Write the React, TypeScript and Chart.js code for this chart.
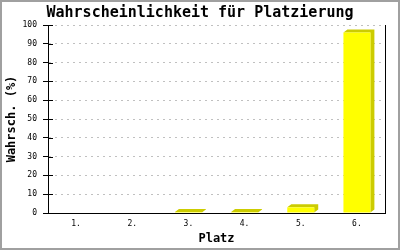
import React, { useEffect, useRef } from "react";
import { Chart, registerables } from "chart.js";

Chart.register(...registerables);

const categories = ["1.", "2.", "3.", "4.", "5.", "6."];
const values = [0, 0, 0.5, 0.5, 3, 96];
const yTicks = [0, 10, 20, 30, 40, 50, 60, 70, 80, 90, 100];

const MONO = "'DejaVu Sans Mono', 'Liberation Mono', monospace";

const bar3d = {
  id: "bar3d",
  beforeDatasetsDraw(chart: any) {
    const ctx = chart.ctx;
    const meta = chart.getDatasetMeta(0);
    const dx = 4;
    const dy = 3;
    ctx.save();
    ctx.fillStyle = "#cccc00";
    meta.data.forEach((el: any, i: number) => {
      if (!values[i]) return;
      const { x, y, base, width } = el.getProps(["x", "y", "base", "width"], true);
      const l = x - width / 2;
      const r = x + width / 2;
      ctx.beginPath();
      ctx.moveTo(l, y);
      ctx.lineTo(l + dx, y - dy);
      ctx.lineTo(r + dx, y - dy);
      ctx.lineTo(r + dx, base - dy);
      ctx.lineTo(r, base);
      ctx.lineTo(r, y);
      ctx.closePath();
      ctx.fill();
    });
    ctx.restore();
  },
  afterDraw(chart: any) {
    const ctx = chart.ctx;
    const { left, right, top, bottom } = chart.chartArea;
    const ys = chart.scales.y;
    ctx.save();
    ctx.strokeStyle = "#000";
    ctx.lineWidth = 1;
    ctx.beginPath();
    yTicks.forEach((t) => {
      if (t === 0) return;
      const py = Math.round(ys.getPixelForValue(t)) + 0.5;
      ctx.moveTo(left, py);
      ctx.lineTo(left + 5, py);
    });
    ctx.moveTo(Math.round(right) + 0.5, top);
    ctx.lineTo(Math.round(right) + 0.5, bottom);
    ctx.stroke();
    ctx.restore();
  },
};

export default function App() {
  const ref = useRef<HTMLCanvasElement | null>(null);
  useEffect(() => {
    if (!ref.current) return;
    const chart = new Chart(ref.current, {
      type: "bar",
      data: {
        labels: categories,
        datasets: [
          {
            data: values,
            backgroundColor: "#ffff00",
            borderWidth: 0,
            barPercentage: 0.48,
            categoryPercentage: 1,
          },
        ],
      },
      options: {
        animation: false,
        responsive: false,
        maintainAspectRatio: false,
        layout: { padding: 0 },
        plugins: {
          legend: { display: false },
          tooltip: { enabled: false },
          title: {
            display: true,
            text: "Wahrscheinlichkeit für Platzierung",
            color: "#000",
            font: { family: MONO, size: 15, weight: "bold" },
            padding: { top: 4, bottom: 3 },
          },
        },
        scales: {
          x: {
            afterFit: (s: any) => {
              s.height = 37;
            },
            grid: { display: false, drawTicks: false },
            border: { display: true, color: "#000", width: 1 },
            ticks: {
              color: "#000",
              font: { family: MONO, size: 8 },
              padding: 6,
            },
            title: {
              display: true,
              text: "Platz",
              color: "#000",
              font: { family: MONO, size: 12, weight: "bold" },
              padding: { top: 0, bottom: 4 },
            },
          },
          y: {
            min: 0,
            max: 100,
            afterFit: (s: any) => {
              s.width = 48;
            },
            afterBuildTicks: (s: any) => {
              s.ticks = yTicks.map((v) => ({ value: v }));
            },
            grid: {
              color: "#c0c0c0",
              tickColor: "#000",
              tickLength: 5,
              tickBorderDash: [],
              drawTicks: true,
            },
            border: { display: true, color: "#000", width: 1, dash: [2, 4] as any },
            ticks: {
              color: "#000",
              font: { family: MONO, size: 8 },
              padding: 6,
            },
            title: {
              display: true,
              text: "Wahrsch. (%)",
              color: "#000",
              font: { family: MONO, size: 12, weight: "bold" },
              padding: { top: 5, bottom: 0 },
            },
          },
          y2: {
            position: "right",
            min: 0,
            max: 100,
            afterFit: (s: any) => {
              s.width = 15;
            },
            grid: { display: false, drawTicks: false },
            border: { display: false },
            ticks: { display: false },
          },
        },
      },
      plugins: [bar3d],
    } as any);
    return () => chart.destroy();
  }, []);
  return (
    <div style={{ position: "fixed", left: 0, top: 0, width: 400, height: 250, background: "#fff" }}>
      <canvas ref={ref} width={400} height={250} style={{ position: "absolute", left: 0, top: 0 }} />
      <div
        style={{
          position: "absolute",
          left: 0,
          top: 0,
          width: 400,
          height: 250,
          boxSizing: "border-box",
          border: "2px solid #a0a0a0",
          pointerEvents: "none",
        }}
      />
    </div>
  );
}
